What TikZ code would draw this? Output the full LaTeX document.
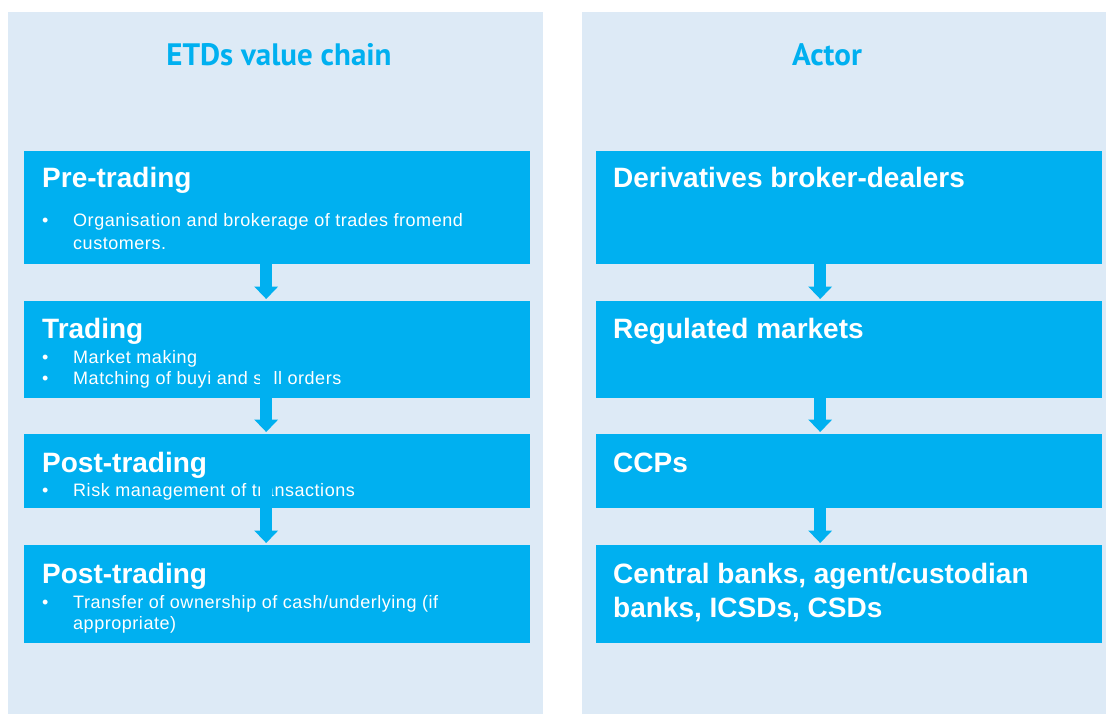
\documentclass[tikz,border=0pt]{standalone}
\usepackage{fontspec}
\setmainfont{Liberation Sans}
\newfontfamily\headfont{PT Sans}
\newfontfamily\itemfont[LetterSpace=3]{Liberation Sans}
\usetikzlibrary{arrows.meta}
\definecolor{etdblue}{RGB}{0,176,240}
\definecolor{panelbg}{RGB}{221,234,246}
\newcommand{\bul}{\makebox[31pt][l]{\textbullet}}

\begin{document}
\begin{tikzpicture}[x=1pt, y=-1pt,
    panel/.style={rectangle, fill=panelbg, anchor=north west, inner sep=0pt},
    stage/.style={rectangle, fill=etdblue, anchor=north west, inner sep=0pt, minimum width=506pt},
    colhead/.style={anchor=base, text=etdblue, inner sep=0pt, font=\headfont\bfseries\fontsize{31}{36}\selectfont},
    stagehead/.style={anchor=base west, text=white, inner sep=0pt, font=\bfseries\fontsize{28}{33}\selectfont},
    stageitem/.style={anchor=base west, text=white, inner sep=0pt, font=\itemfont\fontsize{18}{21}\selectfont},
    flow/.style={-{Triangle[length=12.5pt 0 0, width=24pt 0 0, line width=0pt 0 0]}, line width=12pt, draw=etdblue, shorten >=2pt}
]
\useasboundingbox (0,0) rectangle (1106,714);
\fill[white] (0,0) rectangle (1106,714);

\node[panel, minimum width=535pt, minimum height=702pt] (chaincol) at (8,12) {};
\node[panel, minimum width=524pt, minimum height=702pt] (actorcol) at (582,12) {};

\node[colhead] (chainhead) at (279,66) {ETDs value chain};
\node[colhead] (actorhead) at (827,66) {Actor};

\node[stage, minimum height=113pt] (pre) at (24,151) {};
\node[stage, minimum height=97pt] (trd) at (24,301) {};
\node[stage, minimum height=74pt] (post) at (24,434) {};
\node[stage, minimum height=98pt] (settle) at (24,545) {};

\node[stage, minimum height=113pt] (broker) at (596,151) {};
\node[stage, minimum height=97pt] (market) at (596,301) {};
\node[stage, minimum height=74pt] (ccp) at (596,434) {};
\node[stage, minimum height=98pt] (bank) at (596,545) {};

\node[stagehead] (pre-t) at (42,188) {Pre-trading};
\node[stageitem] (pre-a) at (42,227) {\bul Organisation and brokerage of trades fromend};
\node[stageitem] (pre-b) at (73,250) {customers.};

\node[stagehead] (trd-t) at (42,338) {Trading};
\node[stageitem] (trd-a) at (42,363) {\bul Market making};
\node[stageitem] (trd-b) at (42,384) {\bul Matching of buyi and sell orders};

\node[stagehead] (post-t) at (42,472) {Post-trading};
\node[stageitem] (post-a) at (42,496) {\bul Risk management of transactions};

\node[stagehead] (settle-t) at (42,583) {Post-trading};
\node[stageitem] (settle-a) at (42,608) {\bul Transfer of ownership of cash/underlying (if};
\node[stageitem] (settle-b) at (73,629) {appropriate)};

\node[stagehead] (broker-t) at (613,188) {Derivatives broker-dealers};
\node[stagehead] (market-t) at (613,338) {Regulated markets};
\node[stagehead] (ccp-t) at (613,472) {CCPs};
\node[stagehead] (bank-t) at (613,583) {Central banks, agent/custodian};
\node[stagehead] (bank-u) at (613,617) {banks, ICSDs, CSDs};

\draw[flow] ([xshift=-11pt,yshift=26pt]pre.south) -- ([xshift=-11pt]trd.north);
\draw[flow] ([xshift=-11pt,yshift=26pt]trd.south) -- ([xshift=-11pt]post.north);
\draw[flow] ([xshift=-11pt,yshift=26pt]post.south) -- ([xshift=-11pt]settle.north);

\draw[flow] ([xshift=-29pt]broker.south) -- ([xshift=-29pt]market.north);
\draw[flow] ([xshift=-29pt]market.south) -- ([xshift=-29pt]ccp.north);
\draw[flow] ([xshift=-29pt]ccp.south) -- ([xshift=-29pt]bank.north);

\end{tikzpicture}
\end{document}
